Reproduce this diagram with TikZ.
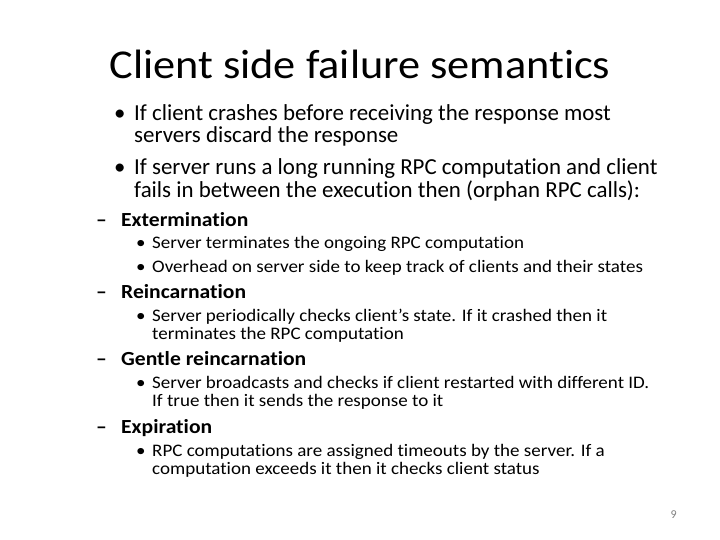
\documentclass[tikz,border=0pt]{standalone}
\usepackage{fontspec}
\setmainfont{Carlito}[Ligatures=NoCommon]
\newfontfamily\widefont{Carlito}[FakeStretch=1.08,Ligatures=NoCommon]
\usetikzlibrary{positioning}
\tikzset{
  ttl/.style={anchor=base,inner sep=0pt,font=\widefont\fontsize{41}{41}\selectfont},
  lone/.style={anchor=base west,inner sep=0pt,font=\fontsize{22.9}{22.9}\selectfont},
  ltwo/.style={anchor=base west,inner sep=0pt,font=\widefont\fontsize{20}{20}\selectfont\bfseries},
  lthree/.style={anchor=base west,inner sep=0pt,font=\widefont\fontsize{17.6}{17.6}\selectfont},
  pgno/.style={anchor=base east,inner sep=0pt,text=gray,font=\fontsize{12}{12}\selectfont}
}
\begin{document}
\begin{tikzpicture}[x=1pt,y=-1pt]
\useasboundingbox[fill=white] (0,0) rectangle (720,540);
%\draw[step=20,color=gray] (0,0) grid (720,540);
\node[ttl] (title) at (360,79) {Client side failure semantics};
% first level
\node[lone] (bA) at (114,121) {•};
\node[lone] (tA1) at (134,121) {If client crashes before receiving the response most};
\node[lone] (tA2) at (134,143) {servers discard the response};
\node[lone] (bB) at (114,175) {•};
\node[lone] (tB1) at (134,175) {If server runs a long running RPC computation and client};
\node[lone] (tB2) at (134,197) {fails in between the execution then (orphan RPC calls):};
% second and third level
\node[ltwo] (dA) at (96,226) {–};
\node[ltwo] (exterm) at (121,226) {Extermination};
\node[lthree] (sA) at (136,248) {•};
\node[lthree] (sA1) at (152,248) {Server terminates the ongoing RPC computation};
\node[lthree] (sB) at (136,272) {•};
\node[lthree] (sB1) at (152,272) {Overhead on server side to keep track of clients and their states};
\node[ltwo] (dB) at (96,298) {–};
\node[ltwo] (reinc) at (121,298) {Reincarnation};
\node[lthree] (sC) at (136,321) {•};
\node[lthree] (sC1) at (152,321) {Server periodically checks client’s state. If it crashed then it};
\node[lthree] (sC2) at (152,339) {terminates the RPC computation};
\node[ltwo] (dC) at (96,365) {–};
\node[ltwo] (gentle) at (121,365) {Gentle reincarnation};
\node[lthree] (sD) at (136,388) {•};
\node[lthree] (sD1) at (152,388) {Server broadcasts and checks if client restarted with different ID.};
\node[lthree] (sD2) at (152,406) {If true then it sends the response to it};
\node[ltwo] (dD) at (96,433) {–};
\node[ltwo] (expir) at (121,433) {Expiration};
\node[lthree] (sE) at (136,456) {•};
\node[lthree] (sE1) at (152,456) {RPC computations are assigned timeouts by the server. If a};
\node[lthree] (sE2) at (152,474) {computation exceeds it then it checks client status};
\node[pgno] (page) at (677,518) {9};
\end{tikzpicture}
\end{document}
